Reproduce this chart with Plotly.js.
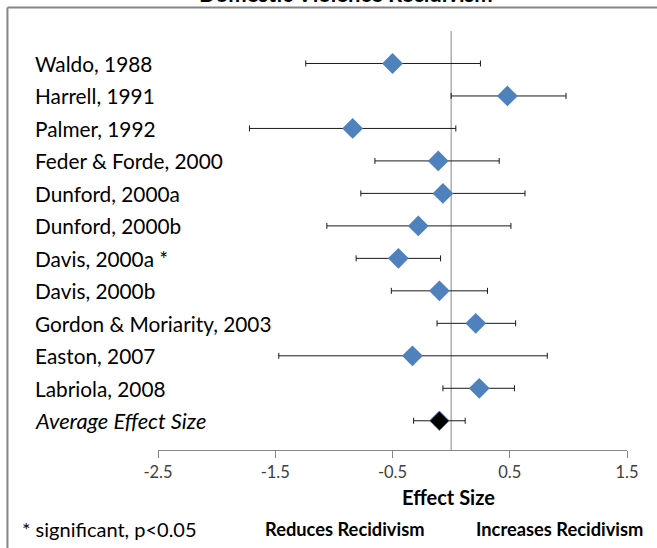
<!DOCTYPE html>
<html>
<head>
<meta charset="utf-8">
<script src="https://cdn.plot.ly/plotly-3.0.1.min.js"></script>
<style>html,body{margin:0;padding:0;background:#fff;}#chart{width:657px;height:548px;}</style>
</head>
<body>
<div id="chart"></div>
<script>
const studies = ["Waldo, 1988","Harrell, 1991","Palmer, 1992","Feder & Forde, 2000","Dunford, 2000a","Dunford, 2000b","Davis, 2000a *","Davis, 2000b","Gordon & Moriarity, 2003","Easton, 2007","Labriola, 2008"];
const effect = [-0.50, 0.48, -0.84, -0.11, -0.07, -0.28, -0.45, -0.10, 0.21, -0.33, 0.24];
const lower  = [-1.24, 0.00, -1.72, -0.65, -0.77, -1.06, -0.81, -0.51, -0.12, -1.47, -0.07];
const upper  = [ 0.25, 0.98,  0.04,  0.41,  0.63,  0.51, -0.09,  0.31,  0.55,  0.82,  0.54];
const avgLabel = "Average Effect Size";
const avgEffect = -0.10;
const avgLower = -0.32;
const avgUpper = 0.12;
const tickVals = [-2.5, -1.5, -0.5, 0.5, 1.5];
const titleText = "Domestic Violence Recidivism";
const xTitle = "Effect Size";
const footNote = "* significant, p<0.05";
const leftNote = "Reduces Recidivism";
const rightNote = "Increases Recidivism";

const rows = studies.map((s, i) => i + 1);
const avgRow = studies.length + 1;
const FONT = "Lato, 'Open Sans', sans-serif";

const traces = [
  {
    type: "scatter", mode: "markers",
    x: effect, y: rows,
    error_x: {type: "data", symmetric: false,
      array: effect.map((e, i) => upper[i] - e),
      arrayminus: effect.map((e, i) => e - lower[i]),
      color: "#1a1a1a", thickness: 1, width: 3},
    marker: {symbol: "diamond", size: 16, color: "#4F81BD", line: {width: 0}},
    hoverinfo: "skip"
  },
  {
    type: "scatter", mode: "markers",
    x: [avgEffect], y: [avgRow],
    error_x: {type: "data", symmetric: false,
      array: [avgUpper - avgEffect], arrayminus: [avgEffect - avgLower],
      color: "#1a1a1a", thickness: 1, width: 3},
    marker: {symbol: "diamond", size: 15, color: "#000000", line: {width: 1, color: "#4F81BD"}},
    hoverinfo: "skip"
  }
];

const annotations = studies.map((s, i) => ({
  text: s, xref: "paper", yref: "y", x: -0.267, y: rows[i],
  xanchor: "left", yanchor: "middle", showarrow: false,
  font: {family: FONT, size: 20.8, color: "#000"}
}));
annotations.push({
  text: "<i>" + avgLabel + "</i>", xref: "paper", yref: "y", x: -0.267, y: avgRow,
  xanchor: "left", yanchor: "middle", showarrow: false,
  font: {family: FONT, size: 21.8, color: "#000"}
});
annotations.push({
  text: "<b>" + titleText + "</b>", xref: "paper", yref: "paper", x: 0.40, y: 1.09,
  xanchor: "center", yanchor: "middle", showarrow: false,
  font: {family: FONT, size: 22, color: "#000"}
});
annotations.push({
  text: "<b>" + xTitle + "</b>", xref: "paper", yref: "paper", x: 0.62, y: -0.112,
  xanchor: "center", yanchor: "middle", showarrow: false,
  font: {family: FONT, size: 20, color: "#000"}
});
annotations.push({
  text: footNote, xref: "paper", yref: "paper", x: -0.295, y: -0.188,
  xanchor: "left", yanchor: "middle", showarrow: false,
  font: {family: FONT, size: 20, color: "#000"}
});
annotations.push({
  text: "<b>" + leftNote + "</b>", xref: "paper", yref: "paper", x: 0.224, y: -0.188,
  xanchor: "left", yanchor: "middle", showarrow: false,
  font: {family: FONT, size: 18.3, color: "#000"}
});
annotations.push({
  text: "<b>" + rightNote + "</b>", xref: "paper", yref: "paper", x: 1.038, y: -0.188,
  xanchor: "right", yanchor: "middle", showarrow: false,
  font: {family: FONT, size: 18.3, color: "#000"}
});

const layout = {
  width: 657, height: 548,
  margin: {l: 158, r: 30, t: 31, b: 98},
  paper_bgcolor: "#fff", plot_bgcolor: "#fff",
  showlegend: false,
  xaxis: {
    range: [-2.5, 1.5], tickvals: tickVals, ticktext: tickVals.map(v => v.toString()),
    showgrid: false, zeroline: false, showline: true, linecolor: "#868686", linewidth: 1,
    ticks: "outside", ticklen: 7, tickcolor: "#868686",
    tickfont: {family: FONT, size: 16.5, color: "#404040"}, fixedrange: true
  },
  yaxis: {
    range: [12.9, 0], showgrid: false, zeroline: false, showline: false,
    showticklabels: false, ticks: "", fixedrange: true
  },
  shapes: [
    {type: "line", xref: "x", yref: "paper", x0: 0, x1: 0, y0: 0, y1: 1,
     line: {color: "#868686", width: 1}, layer: "below"},
    {type: "line", xref: "paper", yref: "paper", x0: -0.321, x1: 1.07, y0: 1.0561, y1: 1.0561,
     line: {color: "#868686", width: 2}},
    {type: "line", xref: "paper", yref: "paper", x0: -0.321, x1: -0.321, y0: 1.0561, y1: -0.25,
     line: {color: "#868686", width: 2}}
  ],
  annotations: annotations
};

Plotly.newPlot("chart", traces, layout, {displayModeBar: false, staticPlot: true});
</script>
</body>
</html>
